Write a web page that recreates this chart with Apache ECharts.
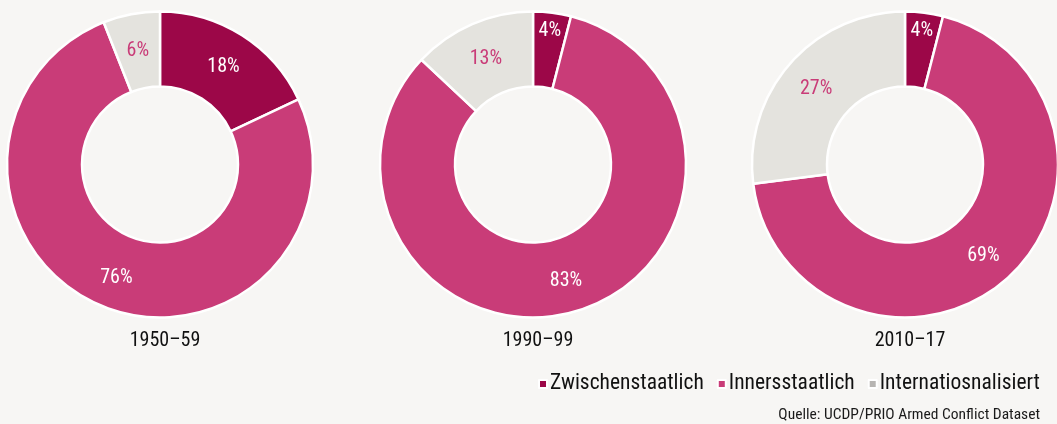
<!DOCTYPE html>
<html><head><meta charset="utf-8">
<script src="https://cdn.jsdelivr.net/npm/echarts@6/dist/echarts.min.js"></script>
<style>html,body{margin:0;padding:0;background:#f7f6f4;}#c{width:1057px;height:424px;}</style>
</head><body><div id="c"></div>
<script>
const categories = ['Zwischenstaatlich', 'Innersstaatlich', 'Internatiosnalisiert'];
const periods = ['1950–59', '1990–99', '2010–17'];
const values1950 = [18, 76, 6];
const values1990 = [4, 83, 13];
const values2010 = [4, 69, 27];
const source = 'Quelle: UCDP/PRIO Armed Conflict Dataset';

const FONT = '"Liberation Sans Narrow", "Roboto Condensed", Roboto, sans-serif';
const colors = ['#9c0748', '#c93c78', '#e4e3de'];
const legendColors = ['#9c0748', '#c93c78', '#b7b5b2'];
const labelColors = ['#ffffff', '#ffffff', '#c93c78'];
const centersX = [160, 533, 905];
const allValues = [values1950, values1990, values2010];

const series = allValues.map((vals, si) => ({
  type: 'pie',
  center: [centersX[si], 164.5],
  radius: [78, 153],
  startAngle: 90,
  clockwise: true,
  avoidLabelOverlap: false,
  silent: true,
  animation: false,
  itemStyle: { borderColor: '#ffffff', borderWidth: 2.5 },
  labelLine: { show: false },
  data: vals.map((v, i) => {
    const small = v < 5 && i === 0;
    return {
      name: categories[i],
      value: v,
      itemStyle: { color: colors[i] },
      label: {
        show: true,
        position: 'inside',
        formatter: '{c}%',
        color: labelColors[i],
        fontFamily: FONT,
        fontSize: 20,
        offset: small ? [2, -16] : [0, 3]
      }
    };
  })
}));

const titles = periods.map((p, i) => ({
  text: p,
  left: centersX[i],
  top: 326,
  textAlign: 'center',
  textStyle: { fontFamily: FONT, fontSize: 20, fontWeight: 'normal', color: '#111111' }
}));
titles.push({
  text: source,
  right: 12,
  top: 402,
  textStyle: { fontFamily: FONT, fontSize: 15.5, fontWeight: 'normal', color: '#1a1a1a' }
});

const chart = echarts.init(document.getElementById('c'), null, { renderer: 'canvas' });
chart.setOption({
  backgroundColor: '#f7f6f4',
  title: titles,
  legend: {
    left: 533,
    top: 368,
    icon: 'rect',
    itemWidth: 8,
    itemHeight: 8,
    itemGap: 13,
    selectedMode: false,
    textStyle: { fontFamily: FONT, fontSize: 21.5, color: '#111111', padding: [0, 0, 0, -2] },
    data: categories.map((c, i) => ({ name: c, itemStyle: { color: legendColors[i] } }))
  },
  series: series
});
</script>
</body></html>
